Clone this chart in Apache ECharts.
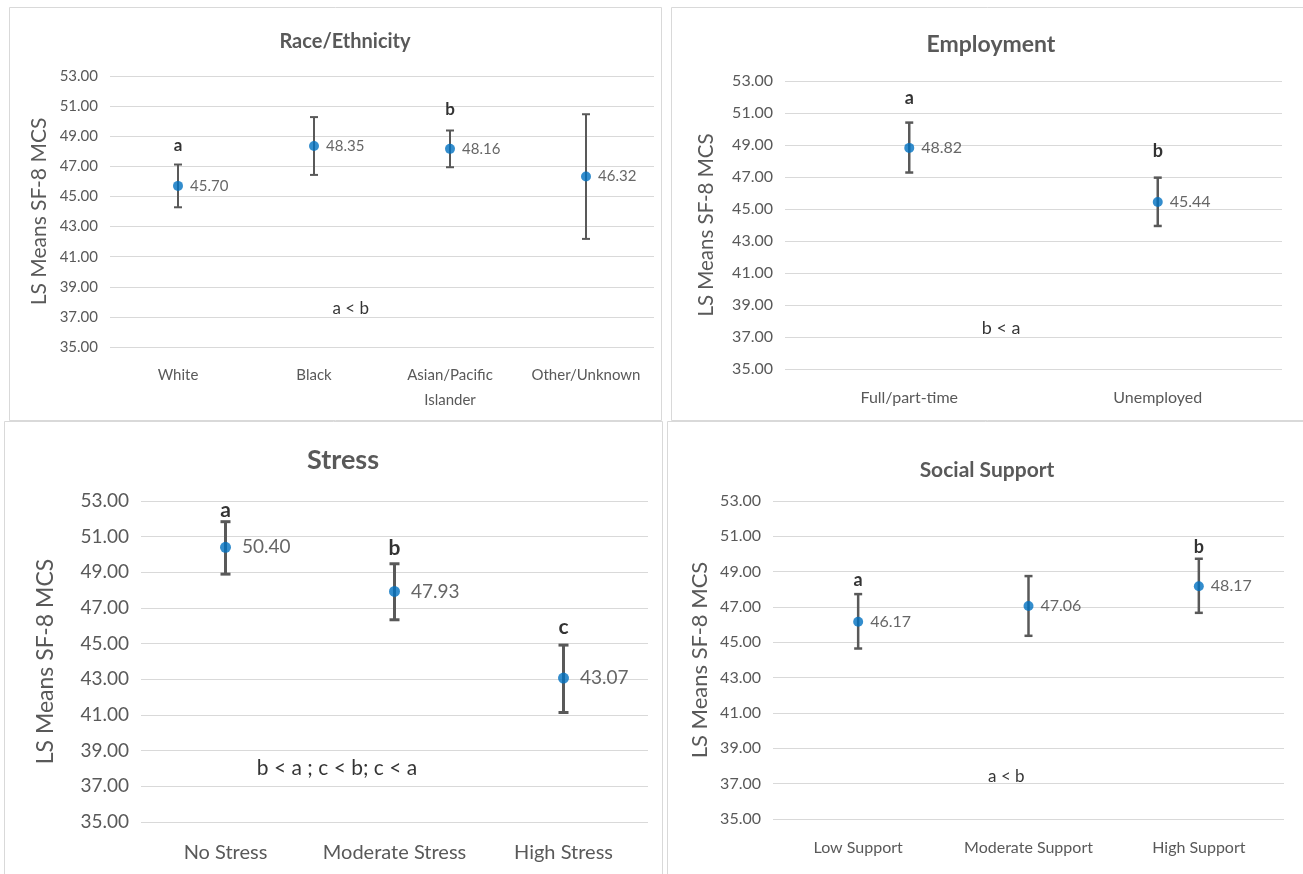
<!DOCTYPE html>
<html>
<head>
<meta charset="utf-8">
<script src="https://cdn.jsdelivr.net/npm/echarts@6/dist/echarts.min.js"></script>
<style>
  html, body { margin: 0; padding: 0; background: #fff; }
  #main { width: 1303px; height: 874px; }
</style>
</head>
<body>
<div id="main"></div>
<script>
// y axis ticks, shared by all four panels
var yMin = 35;
var yMax = 53;
var yStep = 2;

// Race/Ethnicity
var raceCats = ['White', 'Black', 'Asian/Pacific\nIslander', 'Other/Unknown'];
var raceMeans = [45.70, 48.35, 48.16, 46.32];
var raceLow = [44.28, 46.43, 46.94, 42.18];
var raceHigh = [47.12, 50.27, 49.38, 50.46];
var raceLetters = ['a', '', 'b', ''];
var raceLetterY = [48.40, null, 50.76, null];
var raceNote = 'a < b';
var raceNoteAt = [1.27, 37.56];

// Employment
var empCats = ['Full/part-time', 'Unemployed'];
var empMeans = [48.82, 45.44];
var empLow = [47.28, 43.94];
var empHigh = [50.40, 46.96];
var empLetters = ['a', 'b'];
var empLetterY = [51.90, 48.60];
var empNote = 'b < a';
var empNoteAt = [0.37, 37.56];

// Stress
var stressCats = ['No Stress', 'Moderate Stress', 'High Stress'];
var stressMeans = [50.40, 47.93, 43.07];
var stressLow = [48.90, 46.34, 41.14];
var stressHigh = [51.84, 49.48, 44.92];
var stressLetters = ['a', 'b', 'c'];
var stressLetterY = [52.46, 50.36, 45.94];
var stressNote = 'b < a ; c < b; c < a';
var stressNoteAt = [0.66, 37.99];

// Social Support
var socialCats = ['Low Support', 'Moderate Support', 'High Support'];
var socialMeans = [46.17, 47.06, 48.17];
var socialLow = [44.65, 45.37, 46.67];
var socialHigh = [47.73, 48.75, 49.73];
var socialLetters = ['a', '', 'b'];
var socialLetterY = [48.52, null, 50.41];
var socialNote = 'a < b';
var socialNoteAt = [0.87, 37.38];

var FONT = 'Lato';
var GREY = '#595959';
var LINE = '#d9d9d9';
var BLUE = '#0070C0';

var panels = [
  {
    title: 'Race/Ethnicity', cats: raceCats, means: raceMeans, low: raceLow, high: raceHigh,
    letters: raceLetters, letterY: raceLetterY, note: raceNote, noteAt: raceNoteAt,
    grid: { left: 110, top: 76, width: 544, height: 271 },
    titleX: 340, titleTop: 27, titleSize: 20,
    tickSize: 15, catSize: 15, nameSize: 21, nameGap: 60, labelSize: 15,
    letterSize: 17, noteSize: 17, dot: 10, cap: 8, lw: 2, dist: 7
  },
  {
    title: 'Employment', cats: empCats, means: empMeans, low: empLow, high: empHigh,
    letters: empLetters, letterY: empLetterY, note: empNote, noteAt: empNoteAt,
    grid: { left: 785, top: 81, width: 497, height: 288 },
    titleX: 986, titleTop: 28, titleSize: 23,
    tickSize: 16, catSize: 16, nameSize: 20.5, nameGap: 68, labelSize: 16,
    letterSize: 18, noteSize: 18, dot: 10, cap: 8, lw: 2.5, dist: 7
  },
  {
    title: 'Stress', cats: stressCats, means: stressMeans, low: stressLow, high: stressHigh,
    letters: stressLetters, letterY: stressLetterY, note: stressNote, noteAt: stressNoteAt,
    grid: { left: 141, top: 501, width: 507, height: 321 },
    titleX: 338, titleTop: 442, titleSize: 27,
    tickSize: 19, catSize: 20, nameSize: 23, nameGap: 84, labelSize: 19,
    letterSize: 21, noteSize: 21, dot: 11, cap: 10, lw: 3, dist: 11
  },
  {
    title: 'Social Support', cats: socialCats, means: socialMeans, low: socialLow, high: socialHigh,
    letters: socialLetters, letterY: socialLetterY, note: socialNote, noteAt: socialNoteAt,
    grid: { left: 773, top: 501, width: 511, height: 318 },
    titleX: 982, titleTop: 455, titleSize: 21,
    tickSize: 16, catSize: 16, nameSize: 22, nameGap: 62, labelSize: 16,
    letterSize: 18, noteSize: 17, dot: 10, cap: 8, lw: 2.5, dist: 7
  }
];

var option = {
  backgroundColor: '#fff',
  animation: false,
  textStyle: { fontFamily: FONT },
  title: [],
  grid: [],
  xAxis: [],
  yAxis: [],
  series: [],
  graphic: [
    // panel frames
    { type: 'rect', shape: { x: 9.5, y: 7.5, width: 652, height: 413 }, style: { fill: 'none', stroke: LINE, lineWidth: 1 }, silent: true },
    { type: 'rect', shape: { x: 671.5, y: 7.5, width: 640, height: 413 }, style: { fill: 'none', stroke: LINE, lineWidth: 1 }, silent: true },
    { type: 'rect', shape: { x: 4.5, y: 421.5, width: 658, height: 460 }, style: { fill: 'none', stroke: LINE, lineWidth: 1 }, silent: true },
    { type: 'rect', shape: { x: 667.5, y: 421.5, width: 640, height: 460 }, style: { fill: 'none', stroke: LINE, lineWidth: 1 }, silent: true }
  ]
};

panels.forEach(function (p, i) {
  var g = p.grid;
  option.title.push({
    text: p.title,
    left: p.titleX,
    top: p.titleTop,
    textAlign: 'center',
    textStyle: { fontFamily: FONT, fontSize: p.titleSize, fontWeight: 'bold', color: GREY }
  });
  option.grid.push({ left: g.left, top: g.top, width: g.width, height: g.height, outerBoundsMode: 'none' });
  var idx = p.cats.map(function (c, k) { return k; });
  option.xAxis.push({
    type: 'value',
    gridIndex: i,
    min: -0.5,
    max: p.cats.length - 0.5,
    splitLine: { show: false },
    axisTick: { show: false },
    axisLine: { show: false },
    axisLabel: {
      customValues: idx,
      formatter: function (v) { return p.cats[Math.round(v)]; },
      fontFamily: FONT, fontSize: p.catSize, color: GREY,
      margin: 16, lineHeight: p.catSize + 10
    }
  });
  option.yAxis.push({
    type: 'value',
    gridIndex: i,
    min: yMin,
    max: yMax,
    interval: yStep,
    name: 'LS Means SF-8 MCS',
    nameLocation: 'middle',
    nameGap: p.nameGap,
    nameTextStyle: { fontFamily: FONT, fontSize: p.nameSize, color: GREY },
    axisLine: { show: false },
    axisTick: { show: false },
    splitLine: { lineStyle: { color: LINE, width: 1 } },
    axisLabel: {
      formatter: function (v) { return v.toFixed(2); },
      fontFamily: FONT, fontSize: p.tickSize, color: GREY, margin: 12
    }
  });

  // error bars
  option.series.push({
    type: 'custom',
    xAxisIndex: i, yAxisIndex: i,
    z: 2,
    silent: true,
    data: p.means.map(function (m, k) { return [k, p.low[k], p.high[k]]; }),
    renderItem: function (params, api) {
      var x = api.value(0);
      var lo = api.coord([x, api.value(1)]);
      var hi = api.coord([x, api.value(2)]);
      var st = { stroke: '#595959', lineWidth: p.lw };
      var c = p.cap / 2;
      return {
        type: 'group',
        children: [
          { type: 'line', shape: { x1: lo[0], y1: lo[1], x2: hi[0], y2: hi[1] }, style: st },
          { type: 'line', shape: { x1: hi[0] - c, y1: hi[1], x2: hi[0] + c, y2: hi[1] }, style: st },
          { type: 'line', shape: { x1: lo[0] - c, y1: lo[1], x2: lo[0] + c, y2: lo[1] }, style: st }
        ]
      };
    }
  });

  // means
  option.series.push({
    type: 'scatter',
    xAxisIndex: i, yAxisIndex: i,
    z: 3,
    symbol: 'circle',
    symbolSize: p.dot,
    itemStyle: { color: BLUE },
    data: p.means.map(function (m, k) { return [k, m]; }),
    label: {
      show: true,
      position: 'right',
      distance: p.dist,
      formatter: function (d) { return d.value[1].toFixed(2); },
      fontFamily: FONT, fontSize: p.labelSize, color: '#404040'
    }
  });

  // significance letters
  var letterData = [];
  p.letters.forEach(function (l, k) {
    if (l) letterData.push([k, p.letterY[k], l]);
  });
  option.series.push({
    type: 'scatter',
    xAxisIndex: i, yAxisIndex: i,
    z: 4,
    symbolSize: 0,
    silent: true,
    data: letterData,
    label: {
      show: true,
      position: 'inside',
      formatter: function (d) { return d.value[2]; },
      fontFamily: FONT, fontSize: p.letterSize, fontWeight: 'bold', color: '#000'
    }
  });

  // comparison note
  option.series.push({
    type: 'scatter',
    xAxisIndex: i, yAxisIndex: i,
    z: 4,
    symbolSize: 0,
    silent: true,
    data: [p.noteAt],
    label: {
      show: true,
      position: 'inside',
      formatter: p.note,
      fontFamily: FONT, fontSize: p.noteSize, color: '#000'
    }
  });
});

var chart = echarts.init(document.getElementById('main'), null, { renderer: 'canvas' });
chart.setOption(option);
</script>
</body>
</html>
